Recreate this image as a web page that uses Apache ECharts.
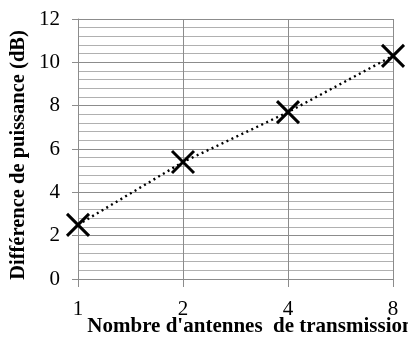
<!DOCTYPE html>
<html>
<head>
<meta charset="utf-8">
<script src="https://cdn.jsdelivr.net/npm/echarts@6/dist/echarts.min.js"></script>
<style>
  html, body { margin: 0; padding: 0; background: #fff; }
  #chart { width: 408px; height: 338px; }
</style>
</head>
<body>
<div id="chart"></div>
<script>
// données
const antennes = ['1', '2', '4', '8'];
const diffPuissance = [2.5, 5.4, 7.7, 10.3];
const yTicks = { min: 0, max: 12, interval: 2 };

const chart = echarts.init(document.getElementById('chart'));
const font = "'Liberation Serif', 'Times New Roman', serif";

const option = {
    backgroundColor: '#fff',
    animation: false,
    grid: { left: 78, right: 15, top: 19, bottom: 59, containLabel: false, outerBoundsMode: 'none' },
    xAxis: {
        type: 'category',
        data: antennes,
        boundaryGap: false,
        name: "Nombre d'antennes  de transmission",
        nameLocation: 'middle',
        nameGap: 37,
        nameMoveOverlap: false,
        nameTextStyle: { fontFamily: font, fontSize: 21, fontWeight: 'bold', color: '#000', padding: [0, 0, 0, 30] },
        axisLine: { show: true, lineStyle: { color: '#8c8c8c', width: 1 } },
        axisTick: { show: true, length: 8, lineStyle: { color: '#8c8c8c' } },
        axisLabel: { fontFamily: font, fontSize: 21, color: '#000', margin: 20 },
        splitLine: { show: true, lineStyle: { color: '#8c8c8c', width: 1 } }
    },
    yAxis: {
        type: 'value',
        min: yTicks.min,
        max: yTicks.max,
        interval: yTicks.interval,
        name: 'Différence de puissance (dB)',
        nameLocation: 'middle',
        nameGap: 49,
        nameMoveOverlap: false,
        nameTextStyle: { fontFamily: font, fontSize: 20.5, fontWeight: 'bold', color: '#000', padding: [0, 12, 0, 0] },
        axisLine: { show: true, lineStyle: { color: '#8c8c8c', width: 1 } },
        axisTick: { show: true, length: 6, lineStyle: { color: '#8c8c8c' } },
        axisLabel: { fontFamily: font, fontSize: 21, color: '#000', margin: 18 },
        splitLine: { show: true, lineStyle: { color: '#8c8c8c', width: 1 } },
        minorTick: { show: false, splitNumber: 5 },
        minorSplitLine: { show: true, lineStyle: { color: '#b0b0b0', width: 1 } }
    },
    series: [{
        type: 'line',
        data: diffPuissance,
        symbol: 'path://M0,0L10,10M10,0L0,10',
        symbolSize: 22,
        showAllSymbol: true,
        itemStyle: { color: 'none', borderColor: '#000', borderWidth: 3 },
        lineStyle: { color: '#000', width: 2.4, type: [2, 3.5] }
    }]
};

chart.setOption(option);
window.addEventListener('resize', function () {
    chart.resize();
});
</script>
</body>
</html>
